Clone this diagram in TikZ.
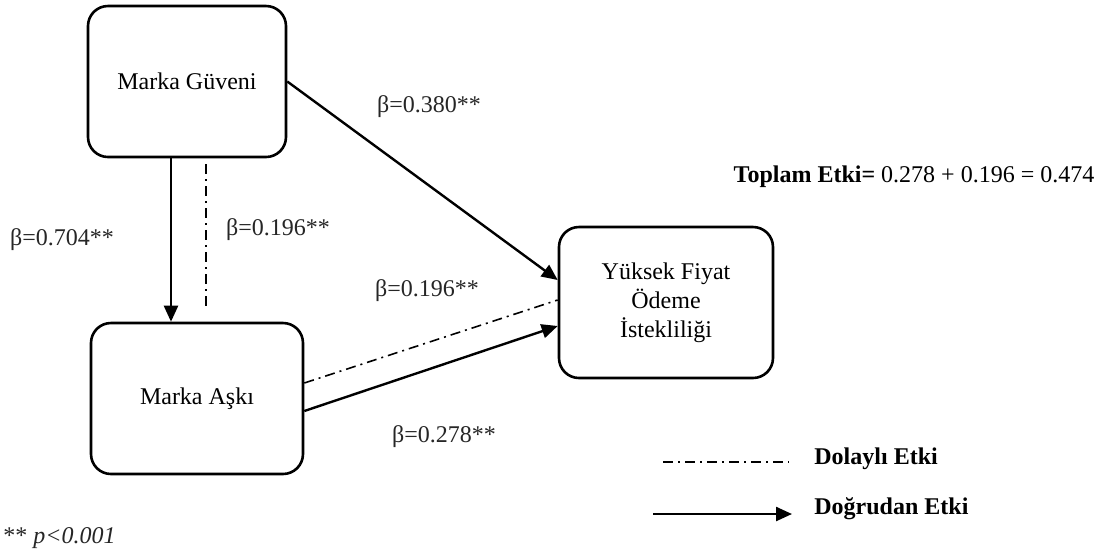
\documentclass[tikz,border=0pt]{standalone}
\usepackage{fontspec}
\setmainfont{Liberation Serif}
\usetikzlibrary{arrows.meta}
\begin{document}
\begin{tikzpicture}[x=0.5pt,y=-0.5pt,
  every node/.style={font=\fontsize{12}{14.5}\selectfont, inner sep=0pt},
  varbox/.style={draw, line width=1.3pt, rounded corners=10pt, minimum height=75.5pt, align=center},
  direct/.style={line width=1.2pt, -{Triangle[length=8pt,width=7pt]}},
  indirect/.style={line width=0.8pt, dash pattern=on 5pt off 2.5pt on 1pt off 2.5pt},
  lbl/.style={font=\fontsize{12}{14.5}\selectfont, text=black!85}
]
\useasboundingbox (0,0) rectangle (1104,554);
\node[varbox, minimum width=99pt] (b1) at (187,81.5) {Marka Güveni};
\node[varbox, minimum width=106pt] (b2) at (197,398.5) {Marka Aşkı};
\node[varbox, minimum width=107pt] (b3) at (666,302.5) {Yüksek Fiyat\\Ödeme\\İstekliliği};

\draw[direct] (b1.east) -- ([yshift=11.25pt]b3.west);
\draw[direct] ([xshift=-8pt]b1.south) -- ([xshift=-8pt]b1.south |- b2.north);
\draw[indirect] ([xshift=9.5pt,yshift=-3pt]b1.south) -- ([xshift=9.5pt,yshift=6pt]b1.south |- b2.north);
\draw[indirect] ([yshift=7.75pt]b2.east) -- ([yshift=1.25pt]b3.west);
\draw[direct] ([yshift=-6.25pt]b2.east) -- ([yshift=-11.75pt]b3.west);

\node[lbl] (l1) at (429,107) {β=0.380**};
\node[lbl] (l2) at (62,240) {β=0.704**};
\node[lbl] (l3) at (278,230) {β=0.196**};
\node[lbl] (l4) at (427,291) {β=0.196**};
\node[lbl] (l5) at (444,437) {β=0.278**};
\node (tot) at (914,177) {\textbf{Toplam Etki=} 0.278 + 0.196 = 0.474};

\coordinate (ia) at (663,462);
\coordinate (ib) at (789,462);
\draw[indirect] (ia) -- (ib);
\coordinate (da) at (653,514);
\coordinate (db) at (792,514);
\draw[direct] (da) -- (db);
\node[anchor=west] (t1) at (814,459) {\textbf{Dolaylı Etki}};
\node[anchor=west] (t2) at (814,509) {\textbf{Doğrudan Etki}};
\node[anchor=west, text=black!85] (pv) at (3,538) {** \textit{p<0.001}};
\end{tikzpicture}
\end{document}
